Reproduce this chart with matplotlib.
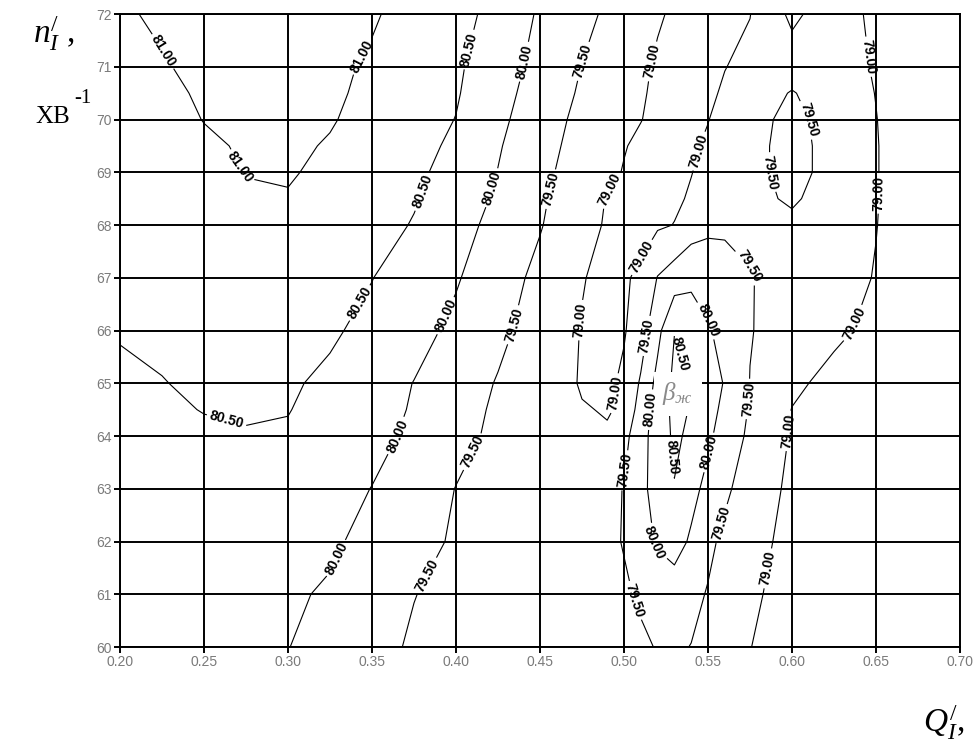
import numpy as np
import matplotlib
matplotlib.use("Agg")
import matplotlib.pyplot as plt

plt.rcParams['font.family'] = ['Liberation Sans', 'DejaVu Sans']
plt.rcParams['mathtext.fontset'] = 'custom'
plt.rcParams['mathtext.rm'] = 'Liberation Serif'
plt.rcParams['mathtext.it'] = 'Liberation Serif:italic'

# Q'_I nodes (columns) and n'_I rows of the efficiency table
q_nodes = [0.20, 0.225, 0.25, 0.275, 0.30, 0.325, 0.35, 0.375, 0.40, 0.425,
           0.45, 0.475, 0.49, 0.50, 0.51, 0.52, 0.53, 0.54, 0.55, 0.56,
           0.575, 0.60, 0.625, 0.65, 0.675, 0.70]
n_rows = [60, 61, 62, 63, 64, 64.5, 65, 66, 67, 68, 68.5, 69, 69.5, 70, 70.5, 71, 72]

# efficiency, %, one list per n'_I row
eff_n60 = [80.03, 80.05, 80.06, 80.04, 80.01, 79.82, 79.63, 79.45, 79.33, 79.27,
           79.25, 79.27, 79.33, 79.38, 79.44, 79.52, 79.56, 79.49, 79.38, 79.27,
           79.01, 78.75, 78.58, 78.45, 78.33, 78.22]
eff_n61 = [80.05, 80.08, 80.10, 80.10, 80.06, 79.95, 79.73, 79.51, 79.38, 79.30,
           79.28, 79.30, 79.38, 79.45, 79.55, 79.68, 79.75, 79.62, 79.47, 79.31,
           79.09, 78.80, 78.62, 78.48, 78.36, 78.25]
eff_n62 = [80.12, 80.17, 80.20, 80.20, 80.15, 80.07, 79.87, 79.64, 79.45, 79.35,
           79.30, 79.32, 79.42, 79.52, 79.79, 80.06, 80.20, 79.93, 79.60, 79.40,
           79.19, 78.84, 78.67, 78.53, 78.40, 78.28]
eff_n63 = [80.22, 80.28, 80.33, 80.35, 80.30, 80.18, 79.99, 79.75, 79.49, 79.35,
           79.25, 79.22, 79.35, 79.52, 79.87, 80.20, 80.48, 80.15, 79.86, 79.58,
           79.29, 78.90, 78.72, 78.57, 78.43, 78.30]
eff_n64 = [80.32, 80.40, 80.45, 80.48, 80.47, 80.38, 80.15, 79.90, 79.64, 79.40,
           79.25, 79.05, 79.03, 79.35, 79.82, 80.23, 80.58, 80.41, 80.09, 79.79,
           79.41, 78.96, 78.78, 78.62, 78.47, 78.32]
eff_n64h = [80.37, 80.45, 80.51, 80.53, 80.51, 80.40, 80.18, 79.96, 79.68, 79.43,
            79.22, 79.02, 78.98, 79.04, 79.75, 80.20, 80.63, 80.47, 80.18, 79.88,
            79.46, 78.99, 78.83, 78.67, 78.51, 78.35]
eff_n65 = [80.42, 80.49, 80.55, 80.58, 80.55, 80.42, 80.21, 79.99, 79.74, 79.47,
           79.22, 78.97, 78.90, 79.09, 79.56, 80.15, 80.60, 80.47, 80.22, 79.97,
           79.49, 79.08, 78.88, 78.72, 78.55, 78.38]
eff_n66 = [80.53, 80.56, 80.58, 80.60, 80.60, 80.56, 80.38, 80.15, 79.90, 79.61,
           79.29, 78.98, 78.86, 78.96, 79.27, 79.86, 80.49, 80.40, 80.05, 79.84,
           79.52, 79.30, 79.08, 78.90, 78.72, 78.50]
eff_n67 = [80.57, 80.62, 80.66, 80.68, 80.66, 80.60, 80.51, 80.27, 80.04, 79.72,
           79.38, 79.02, 78.90, 78.95, 79.08, 79.52, 79.75, 79.85, 79.80, 79.70,
           79.52, 79.33, 79.16, 78.98, 78.75, 78.50]
eff_n68 = [80.60, 80.70, 80.80, 80.88, 80.90, 80.80, 80.68, 80.47, 80.17, 79.86,
           79.53, 79.14, 78.96, 78.89, 78.86, 78.94, 79.01, 79.30, 79.40, 79.42,
           79.42, 79.42, 79.32, 79.01, 78.74, 78.46]
eff_n68h = [80.62, 80.73, 80.84, 80.96, 80.97, 80.85, 80.71, 80.54, 80.26, 79.93,
            79.57, 79.20, 78.98, 78.92, 78.88, 78.88, 78.94, 79.04, 79.20, 79.30,
            79.40, 79.55, 79.33, 79.02, 78.74, 78.46]
eff_n69 = [80.65, 80.76, 80.88, 81.01, 81.04, 80.90, 80.74, 80.59, 80.34, 79.99,
           79.62, 79.28, 79.09, 78.98, 78.92, 78.85, 78.92, 78.99, 79.10, 79.21,
           79.37, 79.65, 79.34, 79.02, 78.73, 78.45]
eff_n69h = [80.68, 80.81, 80.94, 81.04, 81.07, 80.97, 80.80, 80.64, 80.42, 80.04,
            79.67, 79.33, 79.15, 79.02, 78.93, 78.86, 78.88, 78.95, 79.05, 79.16,
            79.36, 79.66, 79.33, 79.02, 78.73, 78.44]
eff_n70 = [80.72, 80.86, 81.01, 81.08, 81.10, 81.03, 80.87, 80.69, 80.49, 80.11,
           79.72, 79.38, 79.22, 79.12, 79.01, 78.91, 78.81, 78.90, 78.99, 79.12,
           79.35, 79.62, 79.32, 79.01, 78.72, 78.42]
eff_n70h = [80.76, 80.91, 81.05, 81.14, 81.15, 81.06, 80.92, 80.73, 80.54, 80.17,
            79.79, 79.44, 79.27, 79.16, 79.04, 78.93, 78.83, 78.83, 78.93, 79.05,
            79.25, 79.53, 79.25, 78.99, 78.71, 78.41]
eff_n71 = [80.80, 80.97, 81.09, 81.20, 81.19, 81.08, 80.95, 80.76, 80.57, 80.23,
           79.85, 79.49, 79.32, 79.20, 79.07, 78.95, 78.84, 78.76, 78.88, 78.99,
           79.10, 79.28, 79.16, 78.97, 78.70, 78.40]
eff_n72 = [80.95, 81.06, 81.16, 81.26, 81.24, 81.14, 81.04, 80.86, 80.65, 80.36,
           79.94, 79.63, 79.43, 79.30, 79.17, 79.04, 78.95, 78.87, 78.80, 78.88,
           78.99, 79.60, 79.23, 78.90, 78.60, 78.30]

levels = [79.0, 79.5, 80.0, 80.5, 81.0]

x_ticks = [0.20, 0.25, 0.30, 0.35, 0.40, 0.45, 0.50, 0.55, 0.60, 0.65, 0.70]
y_ticks = [60, 61, 62, 63, 64, 65, 66, 67, 68, 69, 70, 71, 72]

# where the isoline values are written
label_spots = [
    (0.226, 71.3), (0.272, 69.1), (0.344, 71.2),
    (0.263, 64.25), (0.344, 66.5), (0.383, 68.6), (0.411, 71.3),
    (0.331, 61.65), (0.365, 64.0), (0.396, 66.25), (0.422, 68.7), (0.44, 71.1),
    (0.38, 61.4), (0.41, 63.7), (0.435, 66.1), (0.454, 68.7), (0.476, 71.1),
    (0.517, 71.1), (0.49, 68.7), (0.473, 66.2), (0.497, 64.8), (0.51, 67.4), (0.545, 69.4),
    (0.50, 63.35), (0.508, 60.9), (0.513, 65.9), (0.574, 67.2), (0.575, 64.7), (0.557, 62.35),
    (0.5155, 64.5), (0.52, 62.0), (0.549, 63.7), (0.55, 66.2),
    (0.527, 63.6), (0.539, 65.6),
    (0.587, 69.0), (0.61, 70.0),
    (0.648, 71.2), (0.652, 68.6), (0.636, 66.14), (0.597, 64.1), (0.584, 61.5),
]

eff = np.array([eff_n60, eff_n61, eff_n62, eff_n63, eff_n64, eff_n64h, eff_n65,
                eff_n66, eff_n67, eff_n68, eff_n68h, eff_n69, eff_n69h, eff_n70,
                eff_n70h, eff_n71, eff_n72])

fig = plt.figure(figsize=(9.77, 7.54), dpi=100)
ax = fig.add_axes([0.1228, 0.1419, 0.8598, 0.8395])

cs = ax.contour(q_nodes, n_rows, eff, levels=levels, colors='black', linewidths=0.8)
labels = ax.clabel(cs, fmt='%.2f', manual=label_spots, inline=True,
                   fontsize=10, inline_spacing=3)
for t in labels:
    t.set_fontweight('bold')

ax.set_xlim(0.20, 0.70)
ax.set_ylim(60, 72)
ax.set_xticks(x_ticks)
ax.set_xticklabels(['%.2f' % v for v in x_ticks])
ax.set_yticks(y_ticks)
ax.set_yticklabels([str(v) for v in y_ticks])
ax.grid(True, color='black', linewidth=1.4)
for s in ax.spines.values():
    s.set_linewidth(1.4)
ax.tick_params(length=4, width=1.4, color='black', labelcolor='#7a7a7a',
               labelsize=10, pad=2)

# efficiency symbol in the middle of the hill
ax.text(0.532, 64.8, r'$\beta_{ж}$', fontsize=18, color='#8a8a8a',
        ha='center', va='center',
        bbox=dict(boxstyle='square,pad=0.35', facecolor='white', edgecolor='none'))

# axis names
fig.text(0.034, 0.943, r'$n_I^{/}$ ,', fontsize=24, family='Liberation Serif')
fig.text(0.036, 0.837, 'ХВ', fontsize=18, family='Liberation Serif')
fig.text(0.076, 0.864, '-1', fontsize=15, family='Liberation Serif')
fig.text(0.945, 0.029, r'$Q_I^{/}$,', fontsize=24, family='Liberation Serif')

fig.savefig('out.png', dpi=100)
